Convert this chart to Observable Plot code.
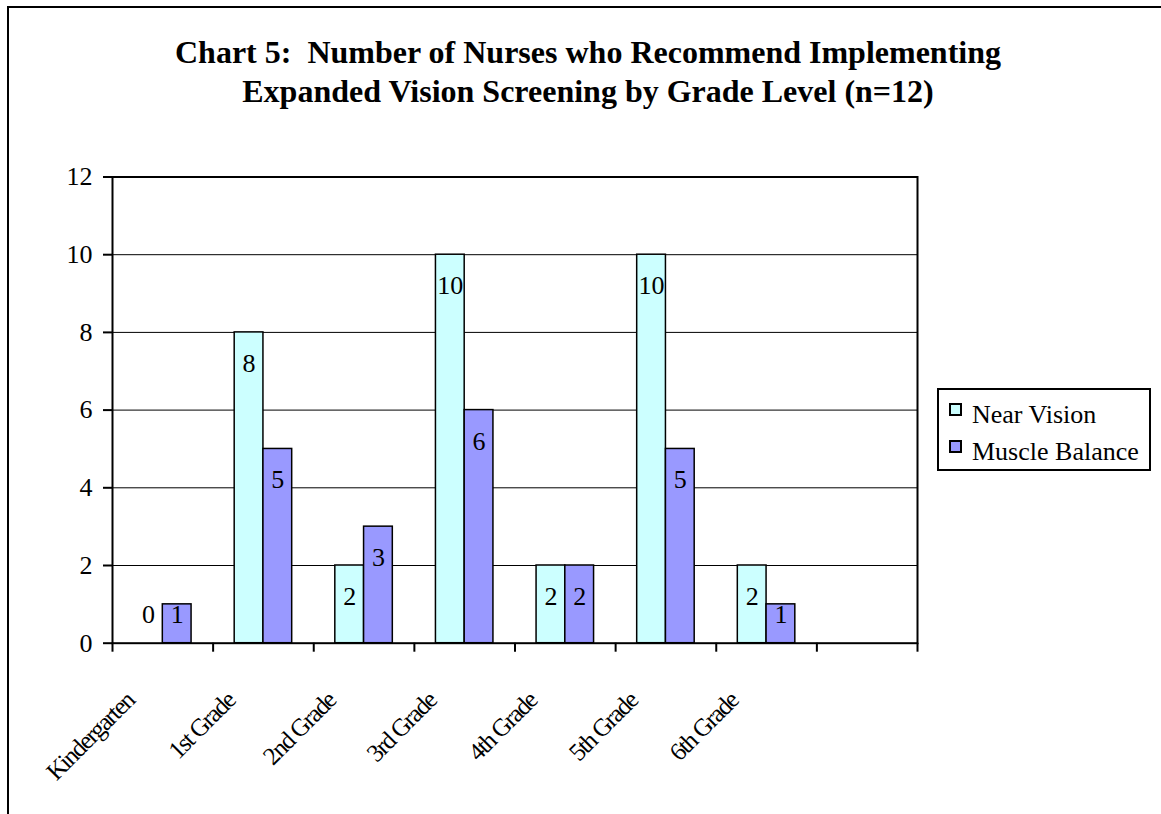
<!DOCTYPE html>
<html>
<head>
<meta charset="utf-8">
<script src="https://cdn.jsdelivr.net/npm/d3@7"></script>
<script src="https://cdn.jsdelivr.net/npm/@observablehq/plot@0.6"></script>
<style>
  body { margin: 0; background: #fff; }
  #chart { position: relative; width: 1161px; height: 814px; overflow: hidden;
           font-family: "Liberation Serif", "Times New Roman", serif; color: #000; }
  #plot { position: absolute; left: 0; top: 0; }
  #border { position: absolute; left: 7px; top: 6px; width: 1300px; height: 1000px;
            border-left: 2px solid #000; border-top: 2px solid #000; pointer-events: none; }
  #title { position: absolute; left: 0; top: 33px; width: 1176px; text-align: center;
           font-weight: bold; font-size: 32px; line-height: 39.4px; white-space: pre; }
  #legend { position: absolute; left: 937px; top: 388px; width: 210px; height: 79px;
            border: 2px solid #000; background: #fff; }
  .item { position: absolute; left: 0; height: 37px; width: 210px; }
  .swatch { position: absolute; left: 10px; top: 13px; width: 9px; height: 9px;
            border: 2px solid #000; }
  .label { position: absolute; left: 33px; top: 12px; font-size: 26px; line-height: 26px;
           white-space: nowrap; }
</style>
</head>
<body>
<div id="chart">
  <div id="plot"></div>
  <div id="border"></div>
  <div id="title">Chart 5:  Number of Nurses who Recommend Implementing
Expanded Vision Screening by Grade Level (n=12)</div>
  <div id="legend"></div>
</div>
<script>
// Grade levels and the number of nurses recommending each screening
const grades = ["Kindergarten", "1st Grade", "2nd Grade", "3rd Grade", "4th Grade", "5th Grade", "6th Grade"];
const nearVision = [0, 8, 2, 10, 2, 10, 2];
const muscleBalance = [1, 5, 3, 6, 2, 5, 1];
const seriesNames = ["Near Vision", "Muscle Balance"];
const seriesColors = ["#CCFFFF", "#9999FF"];
const yTicks = [0, 2, 4, 6, 8, 10, 12];

// the category axis keeps one trailing empty slot
const slots = [...grades, " "];

const nearRows = grades.map((g, i) => ({grade: g, series: seriesNames[0], value: nearVision[i]}));
const muscleRows = grades.map((g, i) => ({grade: g, series: seriesNames[1], value: muscleBalance[i]}));

const W = 1161, H = 814;
const mL = 112, mR = 244, mT = 176.5, mB = 171.3;
const bw = (W - mL - mR) / slots.length;   // width of one category slot
const gapWidth = 1.5;                       // gap between groups, in bar widths
const barW = bw / (2 + gapWidth);

// value labels sit just inside the top of each bar, never below the baseline area
const labelY = v => Math.max(v - 0.8, 0.74);

const chart = Plot.plot({
  width: W,
  height: H,
  marginLeft: mL,
  marginRight: mR,
  marginTop: mT,
  marginBottom: mB,
  style: {fontFamily: "'Liberation Serif', 'Times New Roman', serif", fontSize: "26px", color: "#000", background: "none"},
  x: {type: "band", domain: slots, padding: 0, round: false, axis: null},
  y: {domain: [0, 12], ticks: yTicks, tickSize: 9, tickPadding: 11, label: null, tickFormat: d => String(d)},
  marks: [
    Plot.ruleY(yTicks.filter(v => v > 0 && v < 12), {stroke: "#000", strokeWidth: 1}),
    Plot.barY(nearRows.filter(d => d.value > 0), {
      x: "grade", y: "value", fill: seriesColors[0], stroke: "#000", strokeWidth: 1.5,
      insetLeft: bw / 2 - barW, insetRight: bw / 2
    }),
    Plot.barY(muscleRows.filter(d => d.value > 0), {
      x: "grade", y: "value", fill: seriesColors[1], stroke: "#000", strokeWidth: 1.5,
      insetLeft: bw / 2, insetRight: bw / 2 - barW
    }),
    Plot.text(nearRows, {x: "grade", y: d => labelY(d.value), text: d => String(d.value), dx: -barW / 2, fontSize: 26, fill: "#000"}),
    Plot.text(muscleRows, {x: "grade", y: d => labelY(d.value), text: d => String(d.value), dx: barW / 2, fontSize: 26, fill: "#000"}),
    Plot.frame({stroke: "#000", strokeWidth: 2}),
    // category boundary ticks below the axis
    Plot.tickX(slots, {x: d => d, dx: -bw / 2, insetTop: H - mT - mB, insetBottom: -9, stroke: "#000", strokeWidth: 2}),
    Plot.tickX(slots.slice(-1), {x: d => d, dx: bw / 2, insetTop: H - mT - mB, insetBottom: -9, stroke: "#000", strokeWidth: 2}),
    Plot.text(grades, {
      x: d => d, frameAnchor: "bottom", rotate: -45, textAnchor: "end",
      dx: -27, dy: 59, fontSize: 25, fill: "#000", ariaDescription: "grade labels"
    })
  ]
});

document.getElementById("plot").appendChild(chart);

// condensed category labels and heavier y-axis ticks
d3.select(chart).selectAll('g[aria-description="grade labels"] text').style("letter-spacing", "-1.6px");
d3.select(chart).selectAll('g[aria-label="y-axis tick"]').attr("stroke-width", 2);

// legend
const legend = d3.select("#legend");
seriesNames.forEach((name, i) => {
  const item = legend.append("div").attr("class", "item").style("top", (i * 37) + "px");
  item.append("div").attr("class", "swatch").style("background", seriesColors[i]);
  item.append("div").attr("class", "label").text(name);
});
</script>
</body>
</html>
